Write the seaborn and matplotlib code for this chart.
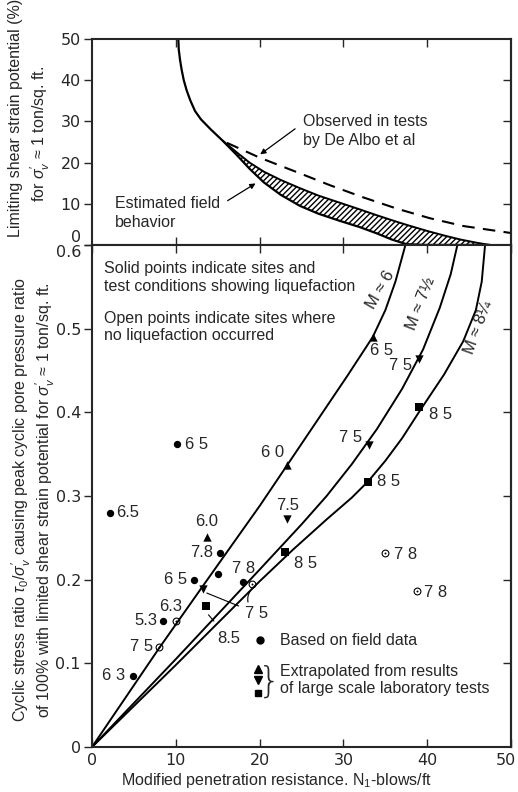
import numpy as np
import matplotlib
matplotlib.use("Agg")
import matplotlib.pyplot as plt
import matplotlib.transforms as mtransforms
import seaborn as sns

# ---- data ----
# top panel: limiting shear strain (%) vs N1
field_n = [10.3, 10.35, 10.5, 10.7, 10.95, 11.3, 11.75, 12.3, 13.0, 14.2]
field_val = [50, 47.5, 45, 42.5, 40, 37.5, 35, 32.5, 30.5, 28]
band_n = [15.6, 17.2, 18.8, 20.5, 22.5, 24.8, 27.0, 29.5, 32.0, 34.0, 35.8, 37.5, 40.0, 42.0, 44.0, 46.0, 47.5]
band_lo = [25.3, 22.0, 18.5, 15.2, 12.2, 9.5, 7.6, 5.9, 4.3, 2.8, 1.3, 0.2, 0, 0, 0, 0, 0]
band_hi = [25.3, 22.6, 20.0, 17.8, 15.8, 13.8, 12.0, 10.3, 8.6, 7.2, 6.0, 4.9, 3.4, 2.3, 1.3, 0.5, 0]
test_n = [16.1, 20.0, 24.8, 28.4, 32.3, 36.4, 40.3, 44.3, 50.0]
test_val = [24.8, 21.2, 17.4, 14.5, 11.6, 8.8, 6.5, 4.6, 2.9]

# bottom panel: cyclic stress ratio curves for three magnitudes
m6_n = [0, 8, 13.2, 20, 23.3, 27, 30.5, 33.5, 35.0, 36.2, 37.4]
m6_r = [0, 0.118, 0.192, 0.288, 0.337, 0.392, 0.444, 0.49, 0.522, 0.556, 0.6]
m75_n = [0, 10, 20, 25, 28, 31, 34, 37, 39.5, 41.5, 42.8, 43.6]
m75_r = [0, 0.105, 0.212, 0.266, 0.30, 0.338, 0.38, 0.428, 0.475, 0.525, 0.565, 0.6]
m825_n = [0, 10, 20, 24, 28, 31, 33, 35, 37, 39, 42, 44.3, 45.8, 46.5, 46.9]
m825_r = [0, 0.098, 0.198, 0.236, 0.272, 0.298, 0.318, 0.342, 0.369, 0.40, 0.445, 0.485, 0.522, 0.556, 0.6]

# field data, liquefaction (solid circles)
liq_n = [2.1, 10.1, 15.3, 15.0, 12.2, 8.5, 4.9, 18.0]
liq_r = [0.28, 0.362, 0.232, 0.207, 0.2, 0.15, 0.085, 0.197]
liq_lab = ["6.5", "6 5", "7.8", "7 8", "6 5", "5.3", "6 3", ""]
# field data, no liquefaction (open circles)
noliq_n = [8.0, 10.0, 19.1, 35.0, 38.8]
noliq_r = [0.12, 0.151, 0.195, 0.232, 0.186]
noliq_lab = ["7 5", "6.3", "", "7 8", "7 8"]
# laboratory tests
up_n = [13.7, 23.3, 33.5]
up_r = [0.251, 0.337, 0.49]
up_lab = ["6.0", "6 0", "6 5"]
down_n = [23.3, 33.1, 39.0, 13.2]
down_r = [0.272, 0.361, 0.464, 0.189]
down_lab = ["7.5", "7 5", "7 5", ""]
sq_n = [32.9, 39.0, 23.0, 13.6]
sq_r = [0.317, 0.406, 0.233, 0.168]
sq_lab = ["8 5", "8 5", "8 5", ""]

# label offsets in points (layout only)
liq_off = [(5, 0, "left"), (6, 0, "left"), (-5, 0, "right"), (10, 4, "left"),
           (-5, 0, "right"), (-4, 1, "right"), (-6, 0, "right"), (0, 0, "left")]
noliq_off = [(-4, 0, "right"), (-4, 10, "center"), (0, 0, "left"), (6, -1, "left"), (5, -1, "left")]
up_off = [(0, 11, "center"), (-2, 9, "right"), (-2, -10, "left")]
down_off = [(0, 10, "center"), (-5, 5, "right"), (-5, -5, "right"), (0, 0, "left")]
sq_off = [(7, 0, "left"), (7, -5, "left"), (7, -8, "left"), (0, 0, "left")]

sns.set_theme(style="ticks")
plt.rcParams["font.family"] = ["Liberation Sans", "DejaVu Sans"]
plt.rcParams["mathtext.fontset"] = "custom"
plt.rcParams["mathtext.rm"] = "Liberation Sans"
plt.rcParams["mathtext.it"] = "Liberation Sans:italic"
plt.rcParams["axes.linewidth"] = 1.5

fig = plt.figure(figsize=(5.18, 7.92), dpi=100)
ax_top = fig.add_axes([0.1776, 0.6907, 0.809, 0.2600])
ax_bot = fig.add_axes([0.1776, 0.0568, 0.809, 0.6340])

TXT = 11.5
TICK = 11.5

# ---------------- top panel ----------------
ax_top.fill_between(band_n, band_lo, band_hi, facecolor="white", edgecolor="black",
                    hatch="//////", linewidth=0)
sns.lineplot(x=field_n + band_n, y=field_val + band_lo, ax=ax_top, color="black",
             lw=1.6, sort=False, estimator=None)
sns.lineplot(x=band_n, y=band_hi, ax=ax_top, color="black", lw=1.4, sort=False, estimator=None)
sns.lineplot(x=test_n, y=test_val, ax=ax_top, color="black", lw=1.5, sort=False,
             estimator=None, linestyle=(0, (6, 4)))
ax_top.set_xlim(0, 50)
ax_top.set_ylim(0, 50)
ax_top.set_yticks(range(0, 51, 10))
ax_top.set_xticks([10, 20, 30, 40])
ax_top.tick_params(axis="x", direction="in", top=True, bottom=True, labelbottom=False,
                   length=6, width=1)
ax_top.tick_params(axis="y", direction="out", length=6, width=1, labelsize=TICK, pad=2)
for lab in ax_top.get_yticklabels():
    lab.set_family("DejaVu Sans")
ax_top.get_yticklabels()[0].set_va("bottom")
sec = ax_top.secondary_yaxis("right")
sec.set_yticks(range(10, 50, 10))
sec.tick_params(direction="in", length=6, width=1, labelright=False)
ax_top.set_xlabel("")
ax_top.set_ylabel("")

ax_top.text(0.504, 0.553, "Observed in tests\nby De Albo et al", transform=ax_top.transAxes,
            fontsize=TXT, ha="left", va="center", linespacing=1.4)
ax_top.text(0.055, 0.155, "Estimated field\nbehavior", transform=ax_top.transAxes,
            fontsize=TXT, ha="left", va="center", linespacing=1.4)
ax_top.annotate("", xy=(19.8, 21.6), xytext=(24.5, 28.6),
                arrowprops=dict(arrowstyle="-|>", color="black", lw=0.9, mutation_scale=8))
ax_top.annotate("", xy=(19.8, 15.3), xytext=(15.9, 10.4),
                arrowprops=dict(arrowstyle="-|>", color="black", lw=0.9, mutation_scale=8))

# ---------------- bottom panel ----------------
for cn, cr in [(m6_n, m6_r), (m75_n, m75_r), (m825_n, m825_r)]:
    sns.lineplot(x=cn, y=cr, ax=ax_bot, color="black", lw=1.4, sort=False, estimator=None)

sns.scatterplot(x=liq_n, y=liq_r, ax=ax_bot, marker="o", color="black", s=28, linewidth=0)
sns.scatterplot(x=noliq_n, y=noliq_r, ax=ax_bot, marker="o", facecolor="white",
                edgecolor="black", s=24, linewidth=0.8)
sns.scatterplot(x=noliq_n, y=noliq_r, ax=ax_bot, marker="o", color="black", s=2, linewidth=0)
sns.scatterplot(x=up_n, y=up_r, ax=ax_bot, marker="^", color="black", s=36, linewidth=0)
sns.scatterplot(x=down_n, y=down_r, ax=ax_bot, marker="v", color="black", s=36, linewidth=0)
sns.scatterplot(x=sq_n, y=sq_r, ax=ax_bot, marker="s", color="black", s=30, linewidth=0)

for xs, ys, labs, offs in [(liq_n, liq_r, liq_lab, liq_off), (noliq_n, noliq_r, noliq_lab, noliq_off),
                           (up_n, up_r, up_lab, up_off), (down_n, down_r, down_lab, down_off),
                           (sq_n, sq_r, sq_lab, sq_off)]:
    for x, y, t, (dx, dy, ha) in zip(xs, ys, labs, offs):
        if t:
            ax_bot.annotate(t, (x, y), xytext=(dx, dy), textcoords="offset points",
                            ha=ha, va="center", fontsize=TXT + 0.5)

# leader lines for the crowded points
ax_bot.annotate("7 5", xy=(down_n[3] + 0.5, down_r[3] - 0.005), xytext=(18.2, 0.16),
                fontsize=TXT + 0.5, ha="left", va="center",
                arrowprops=dict(arrowstyle="-", color="black", lw=0.8, shrinkA=2, shrinkB=0))
ax_bot.annotate("", xy=(noliq_n[2], noliq_r[2] - 0.006), xytext=(18.7, 0.17),
                arrowprops=dict(arrowstyle="-", color="black", lw=0.8,
                                connectionstyle="arc3,rad=-0.3"))
ax_bot.annotate("8.5", xy=(sq_n[3] + 0.3, sq_r[3] - 0.01), xytext=(14.9, 0.13),
                fontsize=TXT + 0.5, ha="left", va="center",
                arrowprops=dict(arrowstyle="-", color="black", lw=0.8, shrinkA=6, shrinkB=0))

ax_bot.text(34.4, 0.546, "M ≈ 6", rotation=60, fontsize=TXT + 0.5, ha="center", va="center")
ax_bot.text(39.2, 0.53, "M ≈ 7½", rotation=69, fontsize=TXT + 0.5, ha="center", va="center")
ax_bot.text(46.1, 0.502, "M ≈ 8¼", rotation=70, fontsize=TXT + 0.5, ha="center", va="center")

ax_bot.text(0.029, 0.935, "Solid points indicate sites and\ntest conditions showing liquefaction",
            transform=ax_bot.transAxes, fontsize=TXT, ha="left", va="center")
ax_bot.text(0.029, 0.836, "Open points indicate sites where\nno liquefaction occurred",
            transform=ax_bot.transAxes, fontsize=TXT, ha="left", va="center")

# key
tr = ax_bot.transAxes
ax_bot.plot([0.401], [0.213], "o", color="black", ms=5, transform=tr)
ax_bot.text(0.449, 0.213, "Based on field data", transform=tr, fontsize=TXT, va="center")
ax_bot.plot([0.396], [0.155], "^", color="black", ms=5.5, transform=tr)
ax_bot.plot([0.396], [0.133], "v", color="black", ms=5.5, transform=tr)
ax_bot.plot([0.396], [0.108], "s", color="black", ms=4.5, transform=tr)
ax_bot.text(0.423, 0.131, "}", transform=tr, fontsize=26, va="center", ha="center",
            family="DejaVu Sans", fontweight="light")
ax_bot.text(0.449, 0.134, "Extrapolated from results\nof large scale laboratory tests",
            transform=tr, fontsize=TXT, va="center", linespacing=1.15)

ax_bot.set_xlim(0, 50)
ax_bot.set_ylim(0, 0.6)
ax_bot.set_xticks(range(0, 51, 10))
ax_bot.set_yticks([0, 0.1, 0.2, 0.3, 0.4, 0.5, 0.6])
ax_bot.set_yticklabels(["0", "0.1", "0.2", "0.3", "0.4", "0.5", "0.6"])
ax_bot.tick_params(axis="x", direction="in", top=True, length=6, width=1, labelsize=TICK, pad=4)
ax_bot.tick_params(axis="y", direction="out", length=6, width=1, labelsize=TICK, pad=2)
for lab in ax_bot.get_yticklabels() + ax_bot.get_xticklabels():
    lab.set_family("DejaVu Sans")
ax_bot.get_yticklabels()[-1].set_va("top")
last = ax_bot.get_xticklabels()[-1]
last.set_transform(last.get_transform() + mtransforms.ScaledTranslation(-4 / 72, 0, fig.dpi_scale_trans))
sec2 = ax_bot.secondary_yaxis("right")
sec2.set_yticks([0.1, 0.2, 0.3, 0.4, 0.5])
sec2.tick_params(direction="in", length=6, width=1, labelright=False)
ax_bot.set_ylabel("")
ax_bot.set_xlabel("Modified penetration resistance. N$_1$-blows/ft", fontsize=TXT)
ax_bot.xaxis.set_label_coords(0.44, -0.048)

# y axis titles
fig.text(16 / 518, 1 - 118 / 792, "Limiting shear strain potential (%)", rotation=90,
         ha="center", va="center", fontsize=TXT)
fig.text(40 / 518, 1 - 134 / 792, r"for $\sigma_v'$ ≈ 1 ton/sq. ft.", rotation=90,
         ha="center", va="center", fontsize=TXT)
fig.text(21 / 518, 1 - 500 / 792,
         r"Cyclic stress ratio $\tau_0/\sigma_v'$ causing peak cyclic pore pressure ratio",
         rotation=90, ha="center", va="center", fontsize=TXT)
fig.text(45 / 518, 1 - 500 / 792,
         r"of 100% with limited shear strain potential for $\sigma_v'$ ≈ 1 ton/sq. ft.",
         rotation=90, ha="center", va="center", fontsize=TXT)

fig.savefig("out.png", dpi=100)
